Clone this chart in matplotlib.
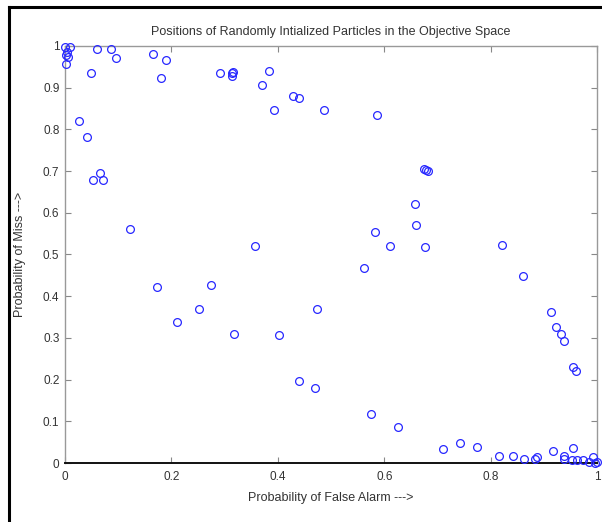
import matplotlib
matplotlib.use("Agg")
import matplotlib.pyplot as plt
from matplotlib.lines import Line2D

# particle positions (P_fa, P_miss)
p_false_alarm = [
    0.000, 0.009, 0.003, 0.002, 0.006, 0.001, 0.061, 0.086, 0.095, 0.048,
    0.165, 0.190, 0.181, 0.291, 0.313, 0.316, 0.313, 0.027, 0.041, 0.053,
    0.066, 0.071, 0.123, 0.383, 0.370, 0.428, 0.440, 0.392, 0.487, 0.586,
    0.583, 0.611, 0.357, 0.674, 0.683, 0.679, 0.658, 0.659, 0.677, 0.821,
    0.172, 0.211, 0.251, 0.274, 0.318, 0.561, 0.474, 0.402, 0.439, 0.469,
    0.575, 0.625, 0.860, 0.913, 0.922, 0.932, 0.937, 0.954, 0.961, 0.711,
    0.742, 0.775, 0.816, 0.842, 0.863, 0.883, 0.887, 0.917, 0.937, 0.938,
    0.954, 0.952, 0.962, 0.973, 0.984, 0.993, 0.996, 1.000,
]
p_miss = [
    0.997, 0.997, 0.986, 0.978, 0.973, 0.956, 0.992, 0.993, 0.972, 0.935,
    0.980, 0.967, 0.924, 0.935, 0.934, 0.937, 0.928, 0.819, 0.782, 0.678,
    0.696, 0.678, 0.560, 0.939, 0.906, 0.881, 0.875, 0.847, 0.847, 0.834,
    0.555, 0.520, 0.520, 0.704, 0.700, 0.702, 0.622, 0.571, 0.517, 0.523,
    0.423, 0.337, 0.369, 0.426, 0.309, 0.468, 0.369, 0.306, 0.197, 0.180,
    0.118, 0.087, 0.448, 0.363, 0.327, 0.309, 0.292, 0.230, 0.221, 0.034,
    0.049, 0.039, 0.018, 0.017, 0.010, 0.010, 0.014, 0.028, 0.017, 0.009,
    0.036, 0.007, 0.007, 0.007, 0.003, 0.015, 0.001, 0.003,
]

x_ticks = [0, 0.2, 0.4, 0.6, 0.8, 1]
x_tick_labels = ["0", "0.2", "0.4", "0.6", "0.8", "1"]
y_ticks = [0, 0.1, 0.2, 0.3, 0.4, 0.5, 0.6, 0.7, 0.8, 0.9, 1]
y_tick_labels = ["0", "0.1", "0.2", "0.3", "0.4", "0.5", "0.6", "0.7", "0.8", "0.9", "1"]

TEXT_COLOR = "#333333"
plt.rcParams["font.family"] = ["Liberation Sans", "DejaVu Sans"]

fig = plt.figure(figsize=(6.02, 5.22), dpi=100)
ax = fig.add_axes([0.108, 0.113, 0.884, 0.799])

ax.plot(p_false_alarm, p_miss, linestyle="none", marker="o", markersize=5.6,
        markerfacecolor="none", markeredgecolor="#2828ff", markeredgewidth=0.9,
        clip_on=False, zorder=3)

ax.set_xlim(0, 1)
ax.set_ylim(0, 1)
ax.set_xticks(x_ticks)
ax.set_xticklabels(x_tick_labels)
ax.set_yticks(y_ticks)
ax.set_yticklabels(y_tick_labels)
ax.tick_params(direction="in", length=4, width=0.8, colors="#888888",
               labelcolor=TEXT_COLOR, labelsize=8.5, top=True, right=True, pad=4)
ax.tick_params(axis="x", pad=6)

for side in ["top", "right", "left"]:
    ax.spines[side].set_color("#999999")
    ax.spines[side].set_linewidth(1.0)
ax.spines["bottom"].set_color("#111111")
ax.spines["bottom"].set_linewidth(1.4)

ax.set_title("Positions of Randomly Intialized Particles in the Objective Space",
             fontsize=9, color=TEXT_COLOR, pad=8)
ax.set_xlabel("Probability of False Alarm --->", fontsize=9, color=TEXT_COLOR, labelpad=6)
ax.set_ylabel("Probability of Miss --->", fontsize=9, color=TEXT_COLOR, labelpad=12)

# page frame of the screenshot
fig.add_artist(Line2D([9 / 602, 9 / 602], [0, 1 - 7 / 522], transform=fig.transFigure,
                      color="black", linewidth=2.2))
fig.add_artist(Line2D([9 / 602, 1], [1 - 7 / 522, 1 - 7 / 522], transform=fig.transFigure,
                      color="black", linewidth=2.2))

fig.savefig("out.png", dpi=100)
